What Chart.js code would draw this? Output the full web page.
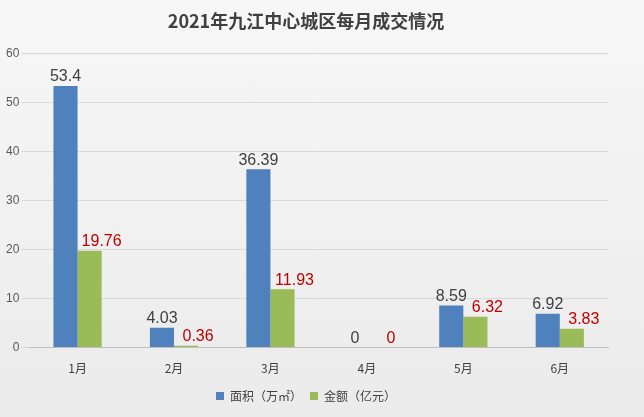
<!DOCTYPE html>
<html><head><meta charset="utf-8">
<script src="https://cdn.jsdelivr.net/npm/chart.js@4/dist/chart.umd.min.js"></script>
<style>html,body{margin:0;padding:0;background:#f0f0f0}#w{width:644px;height:417px;background:linear-gradient(#f7f7f7,#ebebeb)}</style>
</head><body><div id="w"><canvas id="c" width="644" height="417"></canvas></div>
<script>
const categories=['1月','2月','3月','4月','5月','6月'];
const areaValues=[53.4,4.03,36.39,0,8.59,6.92];
const amountValues=[19.76,0.36,11.93,0,6.32,3.83];
const areaLabels=['53.4','4.03','36.39','0','8.59','6.92'];
const amountLabels=['19.76','0.36','11.93','0','6.32','3.83'];
const labelPlugin={id:'lbl',afterDatasetsDraw(ch){const ctx=ch.ctx;ctx.save();ctx.font='16px "Liberation Sans", Arial';ctx.textAlign='center';ctx.textBaseline='bottom';
ch.data.datasets.forEach((ds,i)=>{const m=ch.getDatasetMeta(i);const labs=i===0?areaLabels:amountLabels;ctx.fillStyle=i===0?'#404040':'#c00000';
m.data.forEach((b,j)=>{ctx.fillText(labs[j],b.x+(i===0?0:12),b.y-1);});});ctx.restore();}};
new Chart(document.getElementById('c'),{type:'bar',
data:{labels:categories,datasets:[
{label:'面积（万㎡）',data:areaValues,backgroundColor:'#4f81bd',barPercentage:1,categoryPercentage:0.5},
{label:'金额（亿元）',data:amountValues,backgroundColor:'#9bbb59',barPercentage:1,categoryPercentage:0.5}]},
options:{responsive:false,animation:false,
layout:{padding:{left:4,right:36,top:4,bottom:5}},
plugins:{title:{display:true,text:'2021年九江中心城区每月成交情况',font:{size:18,weight:'bold',family:'"Noto Sans CJK SC"'},color:'#404040',padding:{top:6,bottom:22}},
legend:{position:'bottom',labels:{boxWidth:8,boxHeight:8,padding:8,font:{size:12,family:'"Noto Sans CJK SC"'},color:'#404040'}},tooltip:{enabled:false}},
scales:{x:{grid:{display:false},border:{color:'#bfbfbf'},ticks:{color:'#404040',padding:6,font:{size:12,family:'"Noto Sans CJK SC"'}}},
y:{min:0,max:60,ticks:{stepSize:10,color:'#595959',padding:2,font:{size:12}},grid:{color:'#d9d9d9'},border:{display:false}}}},
plugins:[labelPlugin]});
</script></body></html>
